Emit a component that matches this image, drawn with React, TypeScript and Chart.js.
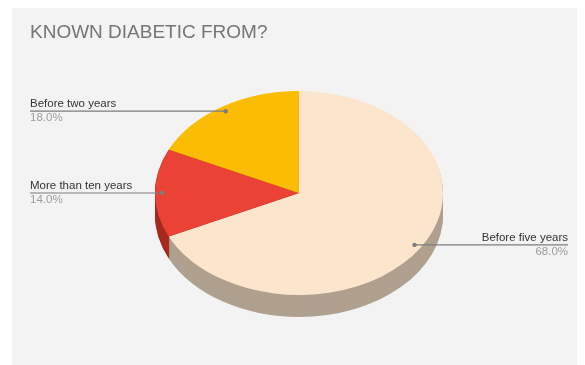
import React, { useEffect, useRef } from "react";
import { Chart, registerables } from "chart.js";

Chart.register(...registerables);

const TITLE = "KNOWN DIABETIC FROM?";
const LABELS = ["Before five years", "More than ten years", "Before two years"];
const VALUES = [68, 14, 18];
const TOP_COLORS = ["#fce5cd", "#ea4335", "#fbbc04"];
const SIDE_COLORS = ["#b0a08f", "#a52b1f", "#b58a06"];

const W = 573;
const H = 357;
const TILT = 0.708;
const DEPTH = 22;
const FONT = '"Liberation Sans", Arial, sans-serif';

const pie3d = {
  id: "pie3d",
  beforeDatasetsDraw(chart: any) {
    const ctx = chart.ctx;
    const arcs = chart.getDatasetMeta(0).data;
    if (!arcs.length) return;
    const { x: cx, y: cy, outerRadius: r } = arcs[0];
    const ry = r * TILT;
    for (let i = DEPTH; i >= 1; i--) {
      arcs.forEach((a: any, j: number) => {
        ctx.beginPath();
        ctx.moveTo(cx, cy + i);
        ctx.ellipse(cx, cy + i, r, ry, 0, a.startAngle, a.endAngle);
        ctx.closePath();
        ctx.fillStyle = SIDE_COLORS[j];
        ctx.fill();
      });
    }
    ctx.save();
    ctx.translate(cx, cy);
    ctx.scale(1, TILT);
    ctx.translate(-cx, -cy);
  },
  afterDatasetsDraw(chart: any) {
    chart.ctx.restore();
  },
  afterDraw(chart: any) {
    const ctx = chart.ctx;
    const arcs = chart.getDatasetMeta(0).data;
    if (!arcs.length) return;
    const { x: cx, y: cy, outerRadius: r } = arcs[0];
    const ry = r * TILT;
    const total = VALUES.reduce((s, v) => s + v, 0);
    ctx.save();
    ctx.fillStyle = "#757575";
    ctx.font = `19px ${FONT}`;
    ctx.textAlign = "left";
    ctx.textBaseline = "middle";
    ctx.fillText(TITLE, 18, 25);
    arcs.forEach((a: any, j: number) => {
      const mid = (a.startAngle + a.endAngle) / 2;
      const dx = cx + 0.95 * r * Math.cos(mid);
      const dy = cy + 0.95 * ry * Math.sin(mid);
      const left = Math.cos(mid) < 0;
      const x0 = left ? 18 : dx;
      const x1 = left ? dx : W - 17;
      ctx.strokeStyle = "#7d7d7d";
      ctx.lineWidth = 1.2;
      ctx.beginPath();
      ctx.moveTo(x0, dy);
      ctx.lineTo(x1, dy);
      ctx.stroke();
      ctx.fillStyle = "#7d7d7d";
      ctx.beginPath();
      ctx.arc(dx, dy, 2.2, 0, Math.PI * 2);
      ctx.fill();
      ctx.textAlign = left ? "left" : "right";
      const tx = left ? 18 : W - 17;
      ctx.font = `11.5px ${FONT}`;
      ctx.fillStyle = "#333333";
      ctx.fillText(LABELS[j], tx, dy - 7.5);
      ctx.fillStyle = "#9e9e9e";
      ctx.fillText(((VALUES[j] / total) * 100).toFixed(1) + "%", tx, dy + 7);
    });
    ctx.restore();
  },
};

export default function App() {
  const ref = useRef<HTMLCanvasElement>(null);
  useEffect(() => {
    if (!ref.current) return;
    const chart = new Chart(ref.current, {
      type: "pie",
      data: {
        labels: LABELS,
        datasets: [
          {
            data: VALUES,
            backgroundColor: TOP_COLORS,
            borderWidth: 0,
            hoverOffset: 0,
          },
        ],
      },
      options: {
        responsive: false,
        animation: false,
        radius: 144,
        layout: { padding: { left: 137, right: 136, top: 35, bottom: 22 } },
        plugins: {
          legend: { display: false },
          tooltip: { enabled: false },
          title: { display: false },
        },
      } as any,
      plugins: [pie3d],
    });
    return () => chart.destroy();
  }, []);
  return (
    <div style={{ marginLeft: 4, width: W, height: H, background: "#f3f3f3" }}>
      <canvas ref={ref} width={W} height={H} style={{ display: "block" }} />
    </div>
  );
}
